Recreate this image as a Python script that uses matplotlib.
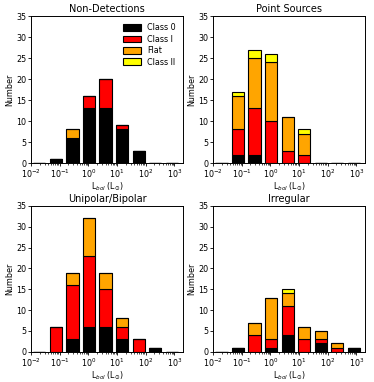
import numpy as np
import matplotlib.pyplot as plt

# log10 bin edges (9 bins)
log_edges = np.linspace(-2, 3.2, 10)

classes = ['Class 0', 'Class I', 'Flat', 'Class II']
colors = ['black', 'red', 'orange', 'yellow']

# counts per bin, one list per class
nondet_c0 = [0, 1, 6, 13, 13, 8, 3, 0, 0]
nondet_c1 = [0, 0, 0, 3, 7, 1, 0, 0, 0]
nondet_flat = [0, 0, 2, 0, 0, 0, 0, 0, 0]
nondet_c2 = [0, 0, 0, 0, 0, 0, 0, 0, 0]

point_c0 = [0, 2, 2, 0, 0, 0, 0, 0, 0]
point_c1 = [0, 6, 11, 10, 3, 2, 0, 0, 0]
point_flat = [0, 8, 12, 14, 8, 5, 0, 0, 0]
point_c2 = [0, 1, 2, 2, 0, 1, 0, 0, 0]

bip_c0 = [0, 0, 3, 6, 6, 3, 0, 1, 0]
bip_c1 = [0, 6, 13, 17, 9, 3, 3, 0, 0]
bip_flat = [0, 0, 3, 9, 4, 2, 0, 0, 0]
bip_c2 = [0, 0, 0, 0, 0, 0, 0, 0, 0]

irr_c0 = [0, 1, 0, 1, 4, 0, 2, 0, 1]
irr_c1 = [0, 0, 4, 2, 7, 3, 1, 1, 0]
irr_flat = [0, 0, 3, 10, 3, 3, 2, 1, 0]
irr_c2 = [0, 0, 0, 0, 1, 0, 0, 0, 0]

panels = [
    ('Non-Detections', [nondet_c0, nondet_c1, nondet_flat, nondet_c2]),
    ('Point Sources', [point_c0, point_c1, point_flat, point_c2]),
    ('Unipolar/Bipolar', [bip_c0, bip_c1, bip_flat, bip_c2]),
    ('Irregular', [irr_c0, irr_c1, irr_flat, irr_c2]),
]

fig = plt.figure(figsize=(3.74, 3.82), dpi=100)
rects = [[0.083, 0.573, 0.406, 0.385], [0.570, 0.573, 0.406, 0.385],
         [0.083, 0.079, 0.406, 0.382], [0.570, 0.079, 0.406, 0.382]]

rw = 0.74
w = log_edges[1] - log_edges[0]
lo = 10 ** (log_edges[:-1] + (1 - rw) / 2 * w)
hi = 10 ** (log_edges[:-1] + (1 + rw) / 2 * w)

for (title, series), r in zip(panels, rects):
    ax = fig.add_axes(r)
    ax.set_xscale('log')
    bottom = np.zeros(len(lo))
    for name, col, vals in zip(classes, colors, series):
        vals = np.array(vals)
        ax.bar(lo, vals, width=hi - lo, bottom=bottom, align='edge',
               color=col, edgecolor='k', linewidth=0.8, label=name)
        bottom += vals
    ax.set_xlim(1e-2, 10 ** 3.3)
    ax.set_ylim(0, 35)
    ax.set_yticks(range(0, 36, 5))
    ax.set_xticks([1e-2, 1e-1, 1e0, 1e1, 1e2, 1e3])
    ax.tick_params(labelsize=5.8, length=2.5, width=0.6, pad=1)
    ax.tick_params(which='minor', length=1.5, width=0.5)
    for s in ax.spines.values():
        s.set_linewidth(0.7)
    ax.set_title(title, fontsize=7, pad=3)
    ax.set_ylabel('Number', fontsize=5.8, labelpad=1)
    ax.set_xlabel(r'L$_{bol}$ (L$_{\odot}$)', fontsize=5.8, labelpad=0)
    if title == 'Non-Detections':
        ax.legend(fontsize=5.8, frameon=False, loc='upper right',
                  handlelength=2.2, handleheight=0.9, labelspacing=0.3)

fig.savefig('out.png', dpi=100)
